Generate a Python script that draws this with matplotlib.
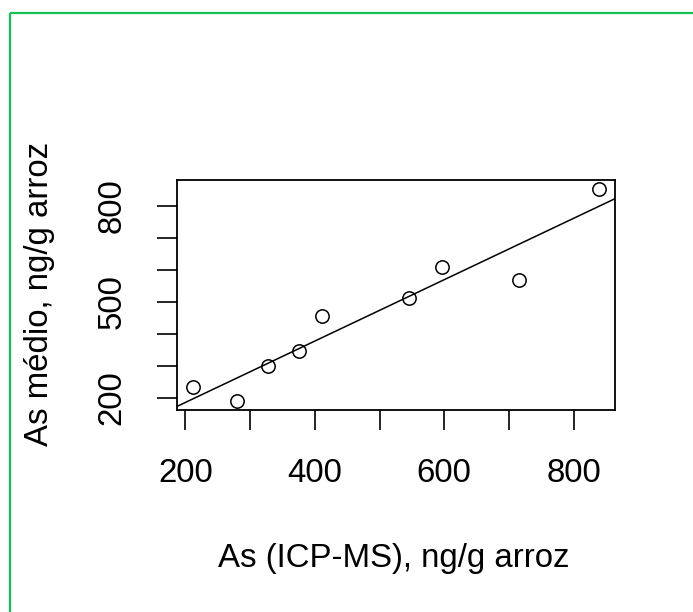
import matplotlib
matplotlib.use("Agg")
import matplotlib.pyplot as plt
import numpy as np
from matplotlib.patches import Rectangle

# data
as_icpms = [212, 280, 327, 375, 411, 546, 597, 715, 839]   # x, ng/g arroz
as_medio = [235, 189, 301, 347, 457, 511, 607, 568, 853]   # y, ng/g arroz
x_ticks = [200, 300, 400, 500, 600, 700, 800]
x_ticklabels = ["200", "", "400", "", "600", "", "800"]
y_ticks = [200, 300, 400, 500, 600, 700, 800]
y_ticklabels = ["200", "", "", "500", "", "", "800"]

plt.rcParams['font.family'] = ['Liberation Sans', 'DejaVu Sans']
fs = 23.8

W, H = 693, 612
fig = plt.figure(figsize=(W / 100, H / 100), dpi=100)

# green frame round the picture (only top and left edges visible)
fig.patches.append(Rectangle((9.5 / W, 1 - 12.5 / H), 1.0, -1.0, transform=fig.transFigure,
                             fill=False, edgecolor='#14c157', linewidth=1.6))

ax = fig.add_axes([177 / W, 1 - 410 / H, (615 - 177) / W, (410 - 180) / H])

x = np.array(as_icpms, dtype=float)
y = np.array(as_medio, dtype=float)

# R style 4% padding on both axes
xr = x.max() - x.min()
yr = y.max() - y.min()
ax.set_xlim(x.min() - 0.04 * xr, x.max() + 0.04 * xr)
ax.set_ylim(y.min() - 0.04 * yr, y.max() + 0.04 * yr)

ax.plot(x, y, 'o', mfc='none', mec='black', ms=9.6, mew=1.1)

# least squares line, like abline(lm(y ~ x))
b, a = np.polyfit(x, y, 1)
ax.axline((0, a), slope=b, color='black', lw=1.1)

ax.set_xticks(x_ticks)
ax.set_xticklabels(x_ticklabels)
ax.set_yticks(y_ticks)
ax.set_yticklabels(y_ticklabels, rotation=90, va='center')
ax.tick_params(axis='both', direction='out', length=14.4, width=1.2, labelsize=fs)
ax.tick_params(axis='x', pad=20)
ax.tick_params(axis='y', pad=21)
for s in ax.spines.values():
    s.set_linewidth(1.3)

fig.text(394 / W, 1 - 567 / H, "As (ICP-MS), ng/g arroz", ha='center', va='baseline', fontsize=fs)
fig.text(48 / W, 1 - 294 / H, "As médio, ng/g arroz", ha='center', va='baseline',
         rotation=90, rotation_mode='anchor', fontsize=fs)

fig.savefig("out.png", dpi=100)
